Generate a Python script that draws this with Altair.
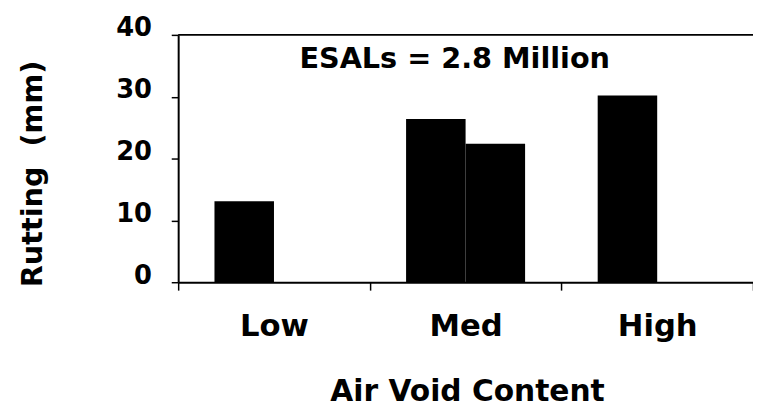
import altair as alt
import pandas as pd

categories = ["Low", "Med", "Med", "High"]
series = ["First", "First", "Second", "First"]
rutting = [13.1, 26.4, 22.4, 30.2]
cat_order = ["Low", "Med", "High"]
series_order = ["First", "Second"]
y_ticks = [0, 10, 20, 30, 40]
annotation = "ESALs = 2.8 Million"

df = pd.DataFrame({"cat": categories, "series": series, "rutting": rutting})
FONT = "DejaVu Sans"

base = alt.Chart(df)

bars = base.mark_bar(color="black").encode(
    x=alt.X(
        "cat:N",
        sort=cat_order,
        scale=alt.Scale(domain=cat_order, paddingInner=0, paddingOuter=0),
        axis=alt.Axis(
            title="Air Void Content",
            labelAngle=0,
            labelFont=FONT,
            labelFontSize=31,
            labelFontWeight="bold",
            labelColor="black",
            labelBaseline="alphabetic",
            labelPadding=46,
            tickBand="extent",
            tickSize=8,
            tickWidth=1.5,
            tickColor="black",
            domainColor="black",
            domainWidth=2,
            titleFont=FONT,
            titleFontSize=30,
            titleFontWeight="bold",
            titleColor="black",
            titleBaseline="alphabetic",
            titleX=292,
            titleY=120,
        ),
    ),
    xOffset=alt.XOffset(
        "series:N",
        scale=alt.Scale(domain=series_order, paddingInner=0, paddingOuter=0.61),
    ),
    y=alt.Y(
        "rutting:Q",
        scale=alt.Scale(domain=[0, 40], nice=False, zero=True),
        axis=alt.Axis(
            title="Rutting\u00a0\u00a0(mm)",
            values=y_ticks,
            grid=False,
            labelFont=FONT,
            labelFontSize=26,
            labelFontWeight="bold",
            labelColor="black",
            labelBaseline="alphabetic",
            labelOffset=1,
            labelPadding=20,
            tickSize=7,
            tickWidth=1.5,
            tickColor="black",
            domainColor="black",
            domainWidth=2,
            titleFont=FONT,
            titleFontSize=29,
            titleFontWeight="bold",
            titleColor="black",
            titleAngle=270,
            titleAlign="center",
            titleBaseline="middle",
            titleX=-147,
            titleY=140,
        ),
    ),
)

top_line = alt.Chart(pd.DataFrame({"v": [40]})).mark_rule(color="black", strokeWidth=2).encode(
    y=alt.Y("v:Q")
)

label = alt.Chart(pd.DataFrame({"t": [annotation]})).mark_text(
    font=FONT, fontSize=29, fontWeight="bold", color="black", align="center", baseline="alphabetic"
).encode(
    x=alt.value(279.5),
    y=alt.Y("y:Q"),
    text="t:N",
).transform_calculate(y="34.7")

chart = alt.layer(bars, top_line, label).properties(
    width=581,
    height=250,
    autosize=alt.AutoSizeParams(type="none"),
    padding={"left": 172, "top": 25, "right": 0, "bottom": 128},
    background="white",
).configure_view(stroke=None)

chart.save("out.html", embed_options={"renderer": "svg", "actions": False})
